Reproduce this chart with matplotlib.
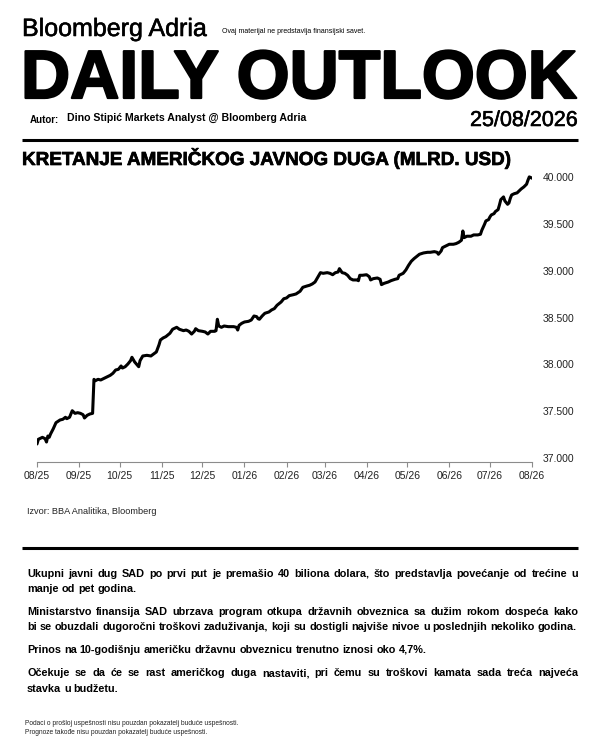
import datetime as dt

import matplotlib
matplotlib.use("Agg")
import matplotlib.pyplot as plt
import matplotlib.dates as mdates
import matplotlib.patheffects as pe
from matplotlib.lines import Line2D
from matplotlib.ticker import FuncFormatter

# data: US public debt, bn USD, days counted from 25/08/2025
start = dt.date(2025, 8, 25)
end = dt.date(2026, 8, 25)
day_offset = [0, 1, 4, 6, 7, 8, 9, 10, 12, 14, 17, 19, 21, 22, 24, 25, 26, 28, 30, 32,
              34, 35, 37, 39, 41, 42, 43, 45, 47, 49, 51, 54, 56, 58, 60, 62, 63, 65, 67, 69,
              70, 72, 75, 76, 78, 81, 84, 86, 88, 90, 91, 93, 95, 98, 100, 103, 105, 108, 110, 112,
              114, 116, 117, 119, 122, 124, 126, 128, 131, 132, 133, 134, 136, 138, 141, 145, 147, 148, 149, 151,
              153, 156, 158, 160, 162, 163, 164, 166, 168, 171, 173, 175, 177, 180, 182, 184, 186, 189, 191, 194,
              196, 199, 201, 203, 205, 207, 209, 211, 214, 216, 218, 220, 222, 223, 225, 227, 229, 231, 233, 236,
              237, 238, 240, 243, 245, 246, 248, 251, 253, 254, 256, 259, 261, 264, 266, 267, 270, 272, 274, 276,
              278, 281, 282, 285, 288, 290, 293, 295, 296, 298, 299, 302, 304, 307, 309, 311, 313, 314, 315, 317,
              320, 322, 325, 327, 328, 330, 331, 333, 334, 335, 337, 338, 340, 341, 342, 344, 345, 347, 348, 349,
              350, 352, 354, 356, 357, 359, 361, 362, 363, 364, 365]
debt_bn = [37147, 37197, 37218, 37203, 37168, 37232, 37218, 37254, 37310, 37375, 37404, 37411, 37433, 37418, 37433, 37468, 37503, 37475, 37482, 37475,
           37460, 37425, 37454, 37468, 37475, 37839, 37824, 37839, 37832, 37846, 37861, 37882, 37904, 37939, 37946, 37982, 37960, 37974, 38003, 38039,
           38075, 38025, 37974, 38039, 38089, 38096, 38089, 38110, 38132, 38210, 38260, 38282, 38296, 38332, 38375, 38396, 38375, 38360, 38367, 38353,
           38324, 38353, 38381, 38360, 38353, 38346, 38324, 38353, 38353, 38360, 38482, 38410, 38396, 38410, 38403, 38403, 38396, 38367, 38417, 38439,
           38453, 38460, 38474, 38517, 38510, 38488, 38482, 38517, 38546, 38560, 38582, 38596, 38632, 38667, 38702, 38710, 38735, 38745, 38753, 38782,
           38824, 38838, 38846, 38860, 38881, 38931, 38981, 38974, 38981, 38974, 38959, 38981, 38988, 39024, 38981, 38974, 38953, 38917, 38903, 38903,
           38895, 38953, 38953, 38959, 38938, 38903, 38917, 38924, 38910, 38853, 38867, 38881, 38895, 38910, 38917, 38953, 38974, 39010, 39060, 39103,
           39131, 39167, 39178, 39192, 39199, 39199, 39206, 39199, 39178, 39213, 39249, 39270, 39285, 39285, 39292, 39306, 39328, 39427, 39356, 39371,
           39371, 39385, 39385, 39392, 39435, 39499, 39535, 39549, 39578, 39599, 39613, 39635, 39656, 39706, 39763, 39792, 39749, 39713, 39727, 39777,
           39813, 39827, 39835, 39863, 39877, 39899, 39928, 39970, 40006, 40000, 39992]
y_ticks = [37000, 37500, 38000, 38500, 39000, 39500, 40000]

brand = "Bloomberg Adria"
disclaimer_top = "Ovaj materijal ne predstavlja finansijski savet."
big_title = "DAILY OUTLOOK"
author_label = "Autor:"
author = "Dino Stipić Markets Analyst @ Bloomberg Adria"
report_date = "25/08/2026"
chart_title = "KRETANJE AMERIČKOG JAVNOG DUGA (MLRD. USD)"
source = "Izvor: BBA Analitika, Bloomberg"
# each paragraph: list of lines as broken in the original
paragraphs = [
    ["Ukupni javni dug SAD po prvi put je premašio 40 biliona dolara, što predstavlja povećanje od trećine u",
     "manje od pet godina."],
    ["Ministarstvo finansija SAD ubrzava program otkupa državnih obveznica sa dužim rokom dospeća kako",
     "bi se obuzdali dugoročni troškovi zaduživanja, koji su dostigli najviše nivoe u poslednjih nekoliko godina."],
    ["Prinos na 10-godišnju američku državnu obveznicu trenutno iznosi oko 4,7%."],
    ["Očekuje se da će se rast američkog duga nastaviti, pri čemu su troškovi kamata sada treća najveća",
     "stavka u budžetu."],
]
footer = ["Podaci o prošloj uspešnosti nisu pouzdan pokazatelj buduće uspešnosti.",
          "Prognoze takođe nisu pouzdan pokazatelj buduće uspešnosti."]

plt.rcParams['font.family'] = ['Liberation Sans', 'DejaVu Sans']

W, H = 600, 750
fig = plt.figure(figsize=(6, 7.5), dpi=100)
fig.patch.set_facecolor('white')


def fx(px):
    return px / W


def fy(py):
    return 1 - py / H


def hrule(py, lw=2.2):
    fig.add_artist(Line2D([fx(22), fx(578)], [fy(py), fy(py)], transform=fig.transFigure,
                          color='black', lw=lw, solid_capstyle='butt'))


# header
fig.text(fx(22), fy(36), brand, fontsize=18, va='baseline', color='black',
         path_effects=[pe.withStroke(linewidth=0.4, foreground='black')])
fig.text(fx(222), fy(33), disclaimer_top, fontsize=5, va='baseline', color='black')
fig.text(fx(21), fy(98), big_title, fontsize=49, fontweight='bold', va='baseline', color='black',
         path_effects=[pe.withStroke(linewidth=1.6, foreground='black')])
fig.text(fx(30), fy(123), author_label, fontsize=7, fontweight='bold', va='baseline')
fig.text(fx(67), fy(121), author, fontsize=7.6, fontweight='bold', va='baseline')
fig.text(fx(578), fy(126), report_date, fontsize=15.5, ha='right', va='baseline',
         path_effects=[pe.withStroke(linewidth=0.4, foreground='black')])
hrule(140)
fig.text(fx(22), fy(165), chart_title, fontsize=13.6, fontweight='bold', va='baseline',
         path_effects=[pe.withStroke(linewidth=0.5, foreground='black')])

# chart
dates = [start + dt.timedelta(days=d) for d in day_offset]
ax = fig.add_axes([fx(37), fy(462), fx(532) - fx(37), (462 - 170) / H])
ax.plot(dates, debt_bn, color='black', lw=2.2, solid_joinstyle='round', solid_capstyle='round')
ax.set_xlim(start, end)
ax.set_ylim(36954, 40080)
ax.xaxis.set_major_locator(mdates.MonthLocator(bymonthday=25))
ax.xaxis.set_major_formatter(mdates.DateFormatter('%m/%y'))
ax.yaxis.tick_right()
ax.set_yticks(y_ticks)
ax.yaxis.set_major_formatter(FuncFormatter(lambda v, p: f"{v:,.0f}".replace(',', '.')))
for s in ['top', 'left', 'right']:
    ax.spines[s].set_visible(False)
ax.spines['bottom'].set_color('#8c8c8c')
ax.spines['bottom'].set_linewidth(0.8)
ax.tick_params(axis='x', length=3.5, width=0.8, color='#8c8c8c', pad=3, labelsize=7.5, labelcolor='#222222')
ax.tick_params(axis='y', length=0, pad=8, labelsize=7.5, labelcolor='#222222')
ax.set_facecolor('none')

fig.text(fx(27), fy(514), source, fontsize=6.6, va='baseline', color='#222222')
hrule(548)

# body text, justified like the original
renderer = fig.canvas.get_renderer()
left, right = 27, 578


def text_w(s, fs):
    t = fig.text(0, 0, s, fontsize=fs, fontweight='bold')
    w = t.get_window_extent(renderer).width
    t.remove()
    return w


# size chosen so the longest line just fits with normal spacing
widest = max(text_w(l, 8.0) for p in paragraphs for l in p)
body_fs = min(8.6, 8.0 * (right - left) / widest)
space_w = text_w("a a", body_fs) - text_w("aa", body_fs)

baselines = [[577, 592], [615, 630], [653], [676, 692]]
for lines, bls in zip(paragraphs, baselines):
    for i, (line, bl) in enumerate(zip(lines, bls)):
        words = line.split(' ')
        widths = [text_w(w, body_fs) for w in words]
        last = i == len(lines) - 1
        if last or len(words) < 2:
            gap = space_w
        else:
            gap = (right - left - sum(widths)) / (len(words) - 1)
        x = left
        for w, ww in zip(words, widths):
            fig.text(fx(x), fy(bl), w, fontsize=body_fs, fontweight='bold', va='baseline')
            x += ww + gap

fig.text(fx(25), fy(725), footer[0], fontsize=4.8, va='baseline', color='#222222')
fig.text(fx(25), fy(734), footer[1], fontsize=4.8, va='baseline', color='#222222')

fig.savefig('out.png', dpi=100, facecolor='white')
